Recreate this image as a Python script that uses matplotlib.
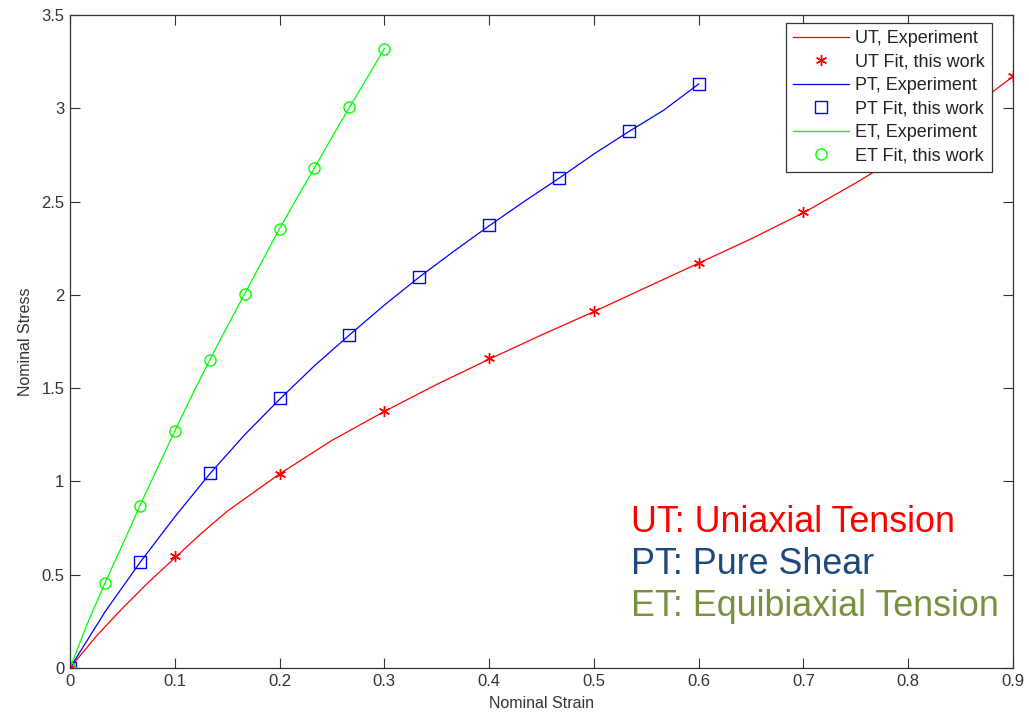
import matplotlib
matplotlib.use("Agg")
import matplotlib.pyplot as plt

plt.rcParams['font.family'] = ['Liberation Sans', 'DejaVu Sans']

# ---- data ----
ut_exp_x = [0, 0.025, 0.05, 0.075, 0.1, 0.125, 0.15, 0.175, 0.2, 0.25, 0.3, 0.35,
            0.4, 0.45, 0.5, 0.55, 0.6, 0.65, 0.7, 0.75, 0.8, 0.85, 0.9]
ut_exp_y = [0, 0.17, 0.32, 0.46, 0.59, 0.72, 0.84, 0.94, 1.04, 1.22, 1.375, 1.52,
            1.655, 1.785, 1.91, 2.04, 2.17, 2.30, 2.44, 2.60, 2.77, 2.96, 3.17]
ut_fit_x = [0, 0.1, 0.2, 0.3, 0.4, 0.5, 0.6, 0.7, 0.8, 0.9]
ut_fit_y = [0, 0.60, 1.04, 1.38, 1.66, 1.915, 2.17, 2.445, 2.77, 3.175]

pt_exp_x = [0, 0.0333, 0.0667, 0.1, 0.1333, 0.1667, 0.2, 0.2333, 0.2667, 0.3,
            0.3333, 0.3667, 0.4, 0.4333, 0.4667, 0.5, 0.5333, 0.5667, 0.6]
pt_exp_y = [0, 0.30, 0.565, 0.81, 1.04, 1.25, 1.44, 1.62, 1.785, 1.945,
            2.095, 2.235, 2.37, 2.50, 2.625, 2.755, 2.875, 2.99, 3.13]
pt_fit_x = [0, 0.0667, 0.1333, 0.2, 0.2667, 0.3333, 0.4, 0.4667, 0.5333, 0.6]
pt_fit_y = [0, 0.568, 1.043, 1.445, 1.785, 2.095, 2.372, 2.627, 2.878, 3.13]

et_exp_x = [0, 0.0167, 0.0333, 0.05, 0.0667, 0.0833, 0.1, 0.1167, 0.1333, 0.15,
            0.1667, 0.1833, 0.2, 0.2167, 0.2333, 0.25, 0.2667, 0.2833, 0.3]
et_exp_y = [0, 0.24, 0.455, 0.66, 0.87, 1.07, 1.27, 1.465, 1.65, 1.83,
            2.005, 2.18, 2.355, 2.52, 2.68, 2.845, 3.005, 3.16, 3.32]
et_fit_x = [0, 0.0333, 0.0667, 0.1, 0.1333, 0.1667, 0.2, 0.2333, 0.2667, 0.3]
et_fit_y = [0, 0.455, 0.868, 1.27, 1.65, 2.005, 2.355, 2.68, 3.005, 3.317]

x_ticks = [0, 0.1, 0.2, 0.3, 0.4, 0.5, 0.6, 0.7, 0.8, 0.9]
x_tick_labels = ['0', '0.1', '0.2', '0.3', '0.4', '0.5', '0.6', '0.7', '0.8', '0.9']
y_ticks = [0, 0.5, 1, 1.5, 2, 2.5, 3, 3.5]
y_tick_labels = ['0', '0.5', '1', '1.5', '2', '2.5', '3', '3.5']

legend_labels = ['UT, Experiment', 'UT Fit, this work',
                 'PT, Experiment', 'PT Fit, this work',
                 'ET, Experiment', 'ET Fit, this work']
notes = ['UT: Uniaxial Tension', 'PT: Pure Shear', 'ET: Equibiaxial Tension']
note_colors = ['#FF0000', '#1F497D', '#76923C']

# ---- figure ----
fig = plt.figure(figsize=(10.29, 7.13), dpi=100)
ax = fig.add_axes([70 / 1029, 45 / 713, 943 / 1029, 653 / 713])

red, blue, green = '#FF0000', '#0000FF', '#00FF00'
lw = 0.9
star = (6, 2, 0)

ax.plot(ut_exp_x, ut_exp_y, color=red, lw=lw, label=legend_labels[0])
ax.plot(ut_fit_x, ut_fit_y, ls='none', marker=star, ms=8, mew=1.0,
        color=red, label=legend_labels[1])
ax.plot(pt_exp_x, pt_exp_y, color=blue, lw=lw, label=legend_labels[2])
ax.plot(pt_fit_x, pt_fit_y, ls='none', marker='s', ms=8.5, mew=1.0,
        mfc='none', mec=blue, label=legend_labels[3])
ax.plot(et_exp_x, et_exp_y, color=green, lw=lw, label=legend_labels[4])
ax.plot(et_fit_x, et_fit_y, ls='none', marker='o', ms=8, mew=1.0,
        mfc='none', mec=green, label=legend_labels[5])

ax.set_xlim(0, 0.9)
ax.set_ylim(0, 3.5)
ax.set_xticks(x_ticks)
ax.set_xticklabels(x_tick_labels)
ax.set_yticks(y_ticks)
ax.set_yticklabels(y_tick_labels)
ax.tick_params(direction='in', length=7, width=0.8, top=True, right=True,
               labelsize=12, labelcolor='#333333', color='#333333', pad=4)
for s in ax.spines.values():
    s.set_color('#333333')
    s.set_linewidth(0.9)

ax.set_xlabel('Nominal Strain', fontsize=11.5, color='#333333', labelpad=5)
ax.set_ylabel('Nominal Stress', fontsize=11.5, color='#333333', labelpad=6)

leg = ax.legend(loc='upper right', bbox_to_anchor=(0.978, 0.988),
                fontsize=13, frameon=True, fancybox=False, edgecolor='#333333',
                handlelength=3.1, handletextpad=0.33, labelspacing=0.36,
                borderpad=0.4, borderaxespad=0, framealpha=1)
leg.get_frame().set_linewidth(0.9)
for t in leg.get_texts():
    t.set_color('#222222')

note_y = [523, 564, 606]
for txt, c, yy in zip(notes, note_colors, note_y):
    fig.text(631 / 1029, 1 - yy / 713, txt, color=c, fontsize=25.8,
             ha='left', va='center')

fig.savefig('out.png', dpi=100)
